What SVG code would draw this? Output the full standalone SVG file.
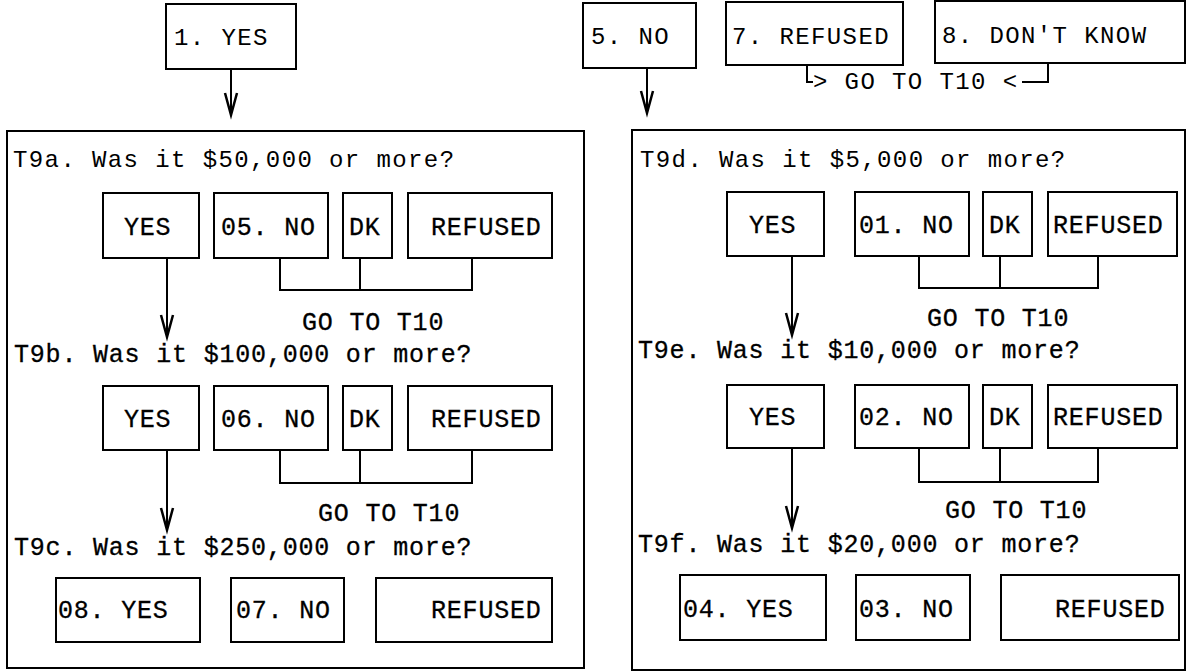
<svg xmlns="http://www.w3.org/2000/svg" width="1191" height="672" viewBox="0 0 1191 672">
<defs>
<style>
.bx{fill:#fff;stroke:#000;stroke-width:2}
.pn{fill:none;stroke:#000;stroke-width:2}
.ln{fill:none;stroke:#000;stroke-width:2}
.ar{fill:none;stroke:#000;stroke-width:2;marker-end:url(#vh)}
.w{font-family:"Liberation Mono","Courier New",monospace;font-size:24px;letter-spacing:1.4px;fill:#000}
.n{font-family:"Liberation Mono","Courier New",monospace;font-size:25px;letter-spacing:0.8px;fill:#000;stroke:#000;stroke-width:0.3px}
</style>
<marker id="vh" markerUnits="userSpaceOnUse" markerWidth="30" markerHeight="20" refX="0" refY="0" orient="auto" overflow="visible">
<path d="M-22,-6 L0,0 L-22,6" fill="none" stroke="#000" stroke-width="2.5"/>
</marker>
</defs>
<rect width="1191" height="672" fill="#fff"/>

<g id="top-yes"><rect class="bx" x="166" y="4" width="130" height="65"/><text class="w" x="174" y="45">1. YES</text></g>
<g id="top-no"><rect class="bx" x="583" y="3" width="113" height="65"/><text class="w" x="591" y="44">5. NO</text></g>
<g id="top-refused"><rect class="bx" x="726" y="2" width="177" height="63"/><text class="w" x="732" y="44">7. REFUSED</text></g>
<g id="top-dk"><rect class="bx" x="935" y="1" width="250" height="62"/><text class="w" x="942" y="43">8. DON'T KNOW</text></g>
<g id="top-goto"><text class="w" x="813" y="89">&gt; GO TO T10 &lt;</text></g>

<g id="panel-left">
<rect class="pn" x="7" y="131" width="577" height="537"/>
<text class="w" x="13" y="167">T9a. Was it $50,000 or more?</text>
<text class="n" x="14" y="362">T9b. Was it $100,000 or more?</text>
<text class="n" x="14" y="555">T9c. Was it $250,000 or more?</text>
<text class="n" x="302" y="330">GO TO T10</text>
<text class="n" x="318" y="521">GO TO T10</text>
</g>
<g id="a-yes"><rect class="bx" x="103" y="193" width="96" height="65"/><text class="n" x="124" y="235">YES</text></g>
<g id="a-no"><rect class="bx" x="214" y="193" width="114" height="65"/><text class="n" x="221" y="235">05. NO</text></g>
<g id="a-dk"><rect class="bx" x="343" y="193" width="49" height="65"/><text class="n" x="349" y="235">DK</text></g>
<g id="a-ref"><rect class="bx" x="408" y="193" width="144" height="65"/><text class="n" x="431" y="235">REFUSED</text></g>
<g id="b-yes"><rect class="bx" x="103" y="386" width="96" height="64"/><text class="n" x="124" y="427">YES</text></g>
<g id="b-no"><rect class="bx" x="214" y="386" width="114" height="64"/><text class="n" x="221" y="427">06. NO</text></g>
<g id="b-dk"><rect class="bx" x="343" y="386" width="49" height="64"/><text class="n" x="349" y="427">DK</text></g>
<g id="b-ref"><rect class="bx" x="408" y="386" width="144" height="64"/><text class="n" x="431" y="427">REFUSED</text></g>
<g id="c-yes"><rect class="bx" x="56" y="578" width="144" height="64"/><text class="n" x="58" y="618">08. YES</text></g>
<g id="c-no"><rect class="bx" x="231" y="578" width="113" height="64"/><text class="n" x="236" y="618">07. NO</text></g>
<g id="c-ref"><rect class="bx" x="376" y="578" width="176" height="64"/><text class="n" x="431" y="618">REFUSED</text></g>

<g id="panel-right">
<rect class="pn" x="632" y="130" width="553" height="540"/>
<text class="w" x="640" y="167">T9d. Was it $5,000 or more?</text>
<text class="n" x="638" y="358">T9e. Was it $10,000 or more?</text>
<text class="n" x="638" y="552">T9f. Was it $20,000 or more?</text>
<text class="n" x="927" y="326">GO TO T10</text>
<text class="n" x="945" y="518">GO TO T10</text>
</g>
<g id="d-yes"><rect class="bx" x="727" y="192" width="97" height="64"/><text class="n" x="749" y="233">YES</text></g>
<g id="d-no"><rect class="bx" x="855" y="192" width="114" height="64"/><text class="n" x="859" y="233">01. NO</text></g>
<g id="d-dk"><rect class="bx" x="983" y="192" width="49" height="64"/><text class="n" x="989" y="233">DK</text></g>
<g id="d-ref"><rect class="bx" x="1048" y="192" width="129" height="64"/><text class="n" x="1053" y="233">REFUSED</text></g>
<g id="e-yes"><rect class="bx" x="727" y="385" width="97" height="63"/><text class="n" x="749" y="425">YES</text></g>
<g id="e-no"><rect class="bx" x="855" y="385" width="114" height="63"/><text class="n" x="859" y="425">02. NO</text></g>
<g id="e-dk"><rect class="bx" x="983" y="385" width="49" height="63"/><text class="n" x="989" y="425">DK</text></g>
<g id="e-ref"><rect class="bx" x="1048" y="385" width="129" height="63"/><text class="n" x="1053" y="425">REFUSED</text></g>
<g id="f-yes"><rect class="bx" x="680" y="575" width="146" height="65"/><text class="n" x="683" y="617">04. YES</text></g>
<g id="f-no"><rect class="bx" x="856" y="575" width="114" height="65"/><text class="n" x="859" y="617">03. NO</text></g>
<g id="f-ref"><rect class="bx" x="1001" y="575" width="178" height="65"/><text class="n" x="1055" y="617">REFUSED</text></g>

<g id="connectors">
<path class="ar" d="M231,69 V115"/>
<path class="ar" d="M647,68 V113"/>
<path class="ln" d="M807,65 V82 H813"/>
<path class="ln" d="M1022,82 H1048 V63"/>
<path class="ar" d="M167,258 V337"/>
<path class="ln" d="M280,258 V290 H472 V258 M360,258 V290"/>
<path class="ar" d="M167,450 V530"/>
<path class="ln" d="M280,450 V483 H472 V450 M360,450 V483"/>
<path class="ar" d="M792,256 V335"/>
<path class="ln" d="M919,256 V288 H1098 V256 M1000,256 V288"/>
<path class="ar" d="M792,448 V528"/>
<path class="ln" d="M919,448 V482 H1098 V448 M1000,448 V482"/>
</g>
</svg>
